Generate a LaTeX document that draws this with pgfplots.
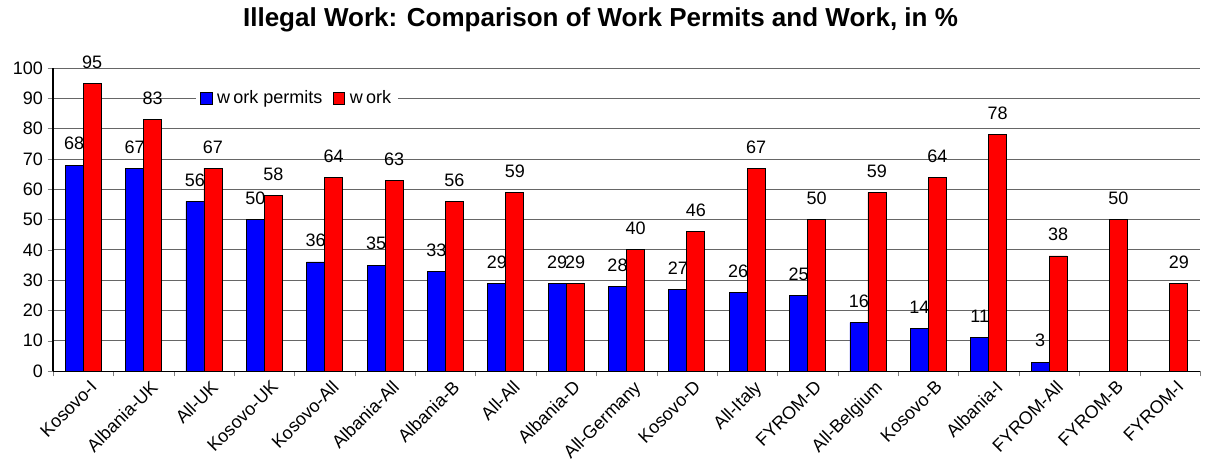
\documentclass[border=0pt]{standalone}
\usepackage{pgfplots}
\pgfplotsset{compat=1.18}
\usepackage{fontspec}
\setmainfont{Liberation Sans}
\begin{document}
\begin{tikzpicture}
\begin{axis}[
  scale only axis, width=860pt, height=227.25pt,
  ybar=0pt, bar width=13.5pt,
  xmin=-0.5, xmax=18.5, ymin=0, ymax=100,
  ytick={0,10,...,100},
  xtick={0,...,18},
  xticklabels={Kosovo-I,Albania-UK,All-UK,Kosovo-UK,Kosovo-All,Albania-All,Albania-B,All-All,Albania-D,All-Germany,Kosovo-D,All-Italy,FYROM-D,All-Belgium,Kosovo-B,Albania-I,FYROM-All,FYROM-B,FYROM-I},
  minor xtick={-0.5,0.5,...,18.5},
  major x tick style={draw=none},
  tick align=outside, major tick length=4pt, minor tick length=4pt,
  axis x line*=bottom, axis y line*=left,
  axis line style={black, line width=0.8pt},
  ymajorgrids, grid style={gray!80!black, line width=0.6pt},
  tick label style={font=\fontsize{13.5}{16}\selectfont},
  x tick label style={anchor=north east, inner sep=0pt, xshift=4.5pt, yshift=-2pt, rotate=45},
  /pgf/number format/assume math mode=true,
  nodes near coords,
  every node near coord/.append style={font=\fontsize{13.5}{16}\selectfont, yshift=7.5pt},
  title={Illegal Work: Comparison of Work Permits and Work, in \%},
  title style={font=\bfseries\fontsize{19.5}{23}\selectfont, at={(0.5,1)}, anchor=base, xshift=-19.5pt, yshift=25.5pt},
  legend image code/.code={\draw[#1, draw=black, line width=0.5pt] (0pt,-4.25pt) rectangle (8.5pt,4.25pt); \path (10pt,0pt);},
  legend style={at={(0.1247,0.9)}, anchor=west, draw=none, fill=white, legend columns=2,
    font=\fontsize{13.5}{16}\selectfont, inner xsep=3pt, inner ysep=1pt,
    /tikz/every even column/.append style={column sep=6pt}},
]
\addplot[fill={rgb,255:red,0;green,0;blue,255}, draw=black, line width=0.6pt] coordinates {
 (0,68) (1,67) (2,56) (3,50) (4,36) (5,35) (6,33) (7,29) (8,29) (9,28)
 (10,27) (11,26) (12,25) (13,16) (14,14) (15,11) (16,3)
};
\addplot[fill={rgb,255:red,255;green,0;blue,0}, draw=black, line width=0.6pt] coordinates {
 (0,95) (1,83) (2,67) (3,58) (4,64) (5,63) (6,56) (7,59) (8,29) (9,40)
 (10,46) (11,67) (12,50) (13,59) (14,64) (15,78) (16,38) (17,50) (18,29)
};
\legend{w\kern2.5pt ork permits, w\kern2.5pt ork}
\end{axis}
\pgfresetboundingbox
\path[use as bounding box] ([xshift=-39.75pt,yshift=-72pt]current axis.south west) rectangle ([xshift=7.5pt,yshift=51pt]current axis.north east);
\end{tikzpicture}
\end{document}
